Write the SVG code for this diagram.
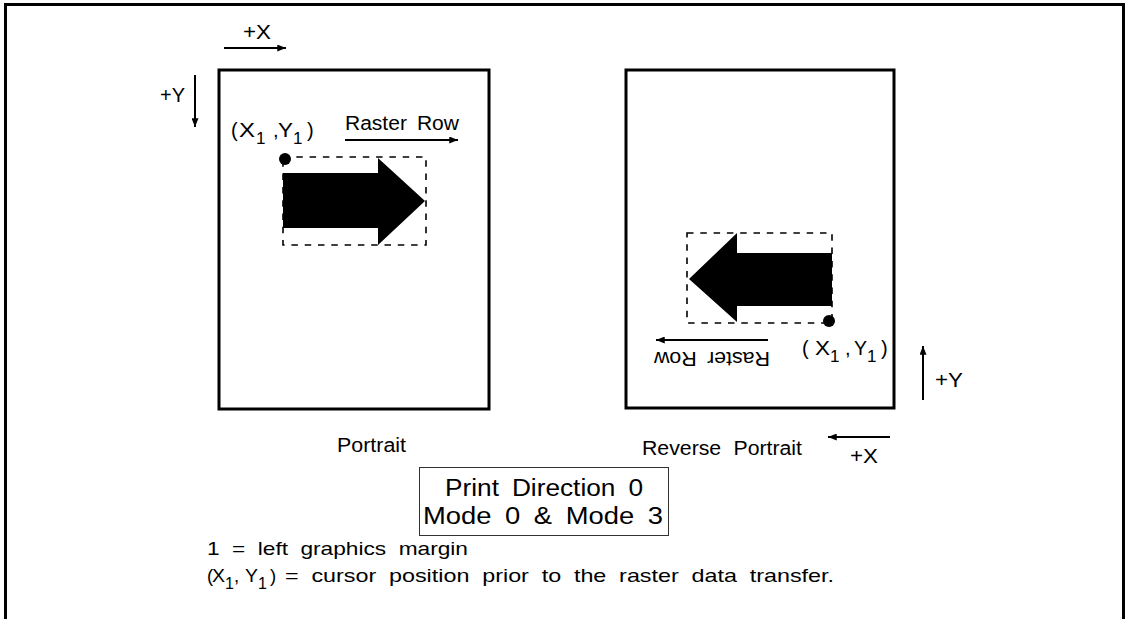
<svg xmlns="http://www.w3.org/2000/svg" width="1125" height="619" viewBox="0 0 1125 619">
<style>
text{font-family:"Liberation Sans",Arial,sans-serif;fill:#000}
.lb{font-size:20px}
.sb{font-size:17px}
.bx{font-size:23px}
.nt{font-size:18.5px}
.ns{font-size:16px}
.page{fill:#fff;stroke:#000;stroke-width:3}
.dash{fill:none;stroke:#000;stroke-width:1.6;stroke-dasharray:6.5 6.8}
.ax{fill:none;stroke:#000;stroke-width:2;marker-end:url(#ah)}
</style>
<defs>
<marker id="ah" viewBox="0 0 10 8" refX="10" refY="4" markerWidth="10" markerHeight="7" markerUnits="userSpaceOnUse" orient="auto">
<path d="M0,0 L10,4 L0,8 z" fill="#000"/>
</marker>
</defs>
<rect width="1125" height="619" fill="#fff"/>
<path id="frame" d="M5.5,619 V4.5 H1123.5 V619" fill="none" stroke="#000" stroke-width="3"/>

<g id="portrait">
<rect class="page" x="219" y="70" width="270" height="339"/>
<rect class="dash" x="283" y="157" width="143" height="88"/>
<polygon points="283,173 378,173 378,158 425,201 378,245 378,228 283,228" fill="#000"/>
<circle cx="285" cy="159" r="6" fill="#000"/>
<text class="lb" x="231" y="137">(</text>
<text class="lb" x="239" y="137" textLength="16" lengthAdjust="spacingAndGlyphs">X</text>
<text class="sb" x="256" y="144">1</text>
<text class="lb" x="273" y="137">,</text>
<text class="lb" x="278" y="137" textLength="15" lengthAdjust="spacingAndGlyphs">Y</text>
<text class="sb" x="293" y="144">1</text>
<text class="lb" x="307" y="137">)</text>
<text class="lb" x="345" y="130" textLength="114" lengthAdjust="spacingAndGlyphs" style="word-spacing:4px">Raster Row</text>
<text class="lb" x="337" y="452" textLength="69" lengthAdjust="spacingAndGlyphs">Portrait</text>
</g>

<g id="reverse-portrait">
<rect class="page" x="626" y="70" width="268" height="338"/>
<rect class="dash" x="687" y="233" width="145" height="90"/>
<polygon points="832,253 737,253 737,233 689,279 737,322 737,306 832,306" fill="#000"/>
<circle cx="829" cy="321" r="6" fill="#000"/>
<text class="lb" x="770" y="352" transform="rotate(180 770 352)" textLength="116" lengthAdjust="spacingAndGlyphs" style="word-spacing:4px">Raster Row</text>
<text class="lb" x="802" y="355">(</text>
<text class="lb" x="815" y="355" textLength="15" lengthAdjust="spacingAndGlyphs">X</text>
<text class="sb" x="830" y="362">1</text>
<text class="lb" x="845" y="355">,</text>
<text class="lb" x="854" y="355" textLength="13" lengthAdjust="spacingAndGlyphs">Y</text>
<text class="sb" x="867" y="362">1</text>
<text class="lb" x="881" y="355">)</text>
<text class="lb" x="642" y="455" textLength="160" lengthAdjust="spacingAndGlyphs" style="word-spacing:6px">Reverse Portrait</text>
</g>

<g id="axis-labels">
<text class="lb" x="243" y="39" textLength="28" lengthAdjust="spacingAndGlyphs">+X</text>
<text class="lb" x="160" y="102" textLength="25" lengthAdjust="spacingAndGlyphs">+Y</text>
<text class="lb" x="935" y="387" textLength="28" lengthAdjust="spacingAndGlyphs">+Y</text>
<text class="lb" x="850" y="463" textLength="28" lengthAdjust="spacingAndGlyphs">+X</text>
</g>

<g id="connectors">
<line class="ax" x1="224" y1="48" x2="286" y2="48"/>
<line class="ax" x1="195" y1="75" x2="195" y2="127"/>
<line class="ax" x1="345" y1="140" x2="458" y2="140"/>
<line class="ax" x1="768" y1="340" x2="656" y2="340"/>
<line class="ax" x1="923" y1="400" x2="923" y2="346"/>
<line class="ax" x1="890" y1="437" x2="828" y2="437"/>
</g>

<g id="mode-box">
<rect x="419.5" y="467.5" width="249" height="68" fill="#fff" stroke="#333" stroke-width="1"/>
<text class="bx" x="445" y="496" textLength="198" lengthAdjust="spacingAndGlyphs" style="word-spacing:5px">Print Direction 0</text>
<text class="bx" x="423" y="524" textLength="240" lengthAdjust="spacingAndGlyphs" style="word-spacing:5px">Mode 0 &amp; Mode 3</text>
</g>

<g id="notes">
<text class="nt" x="207" y="555" textLength="261" lengthAdjust="spacingAndGlyphs" style="word-spacing:5px">1 = left graphics margin</text>
<text class="nt" x="207" y="582">(</text>
<text class="nt" x="212" y="582" textLength="13" lengthAdjust="spacingAndGlyphs">X</text>
<text class="ns" x="225" y="589">1</text>
<text class="nt" x="234" y="582">,</text>
<text class="nt" x="245" y="582" textLength="13" lengthAdjust="spacingAndGlyphs">Y</text>
<text class="ns" x="258" y="589">1</text>
<text class="nt" x="270" y="582">)</text>
<text class="nt" x="285" y="582" textLength="549" lengthAdjust="spacingAndGlyphs" style="word-spacing:5px">= cursor position prior to the raster data transfer.</text>
</g>
</svg>
